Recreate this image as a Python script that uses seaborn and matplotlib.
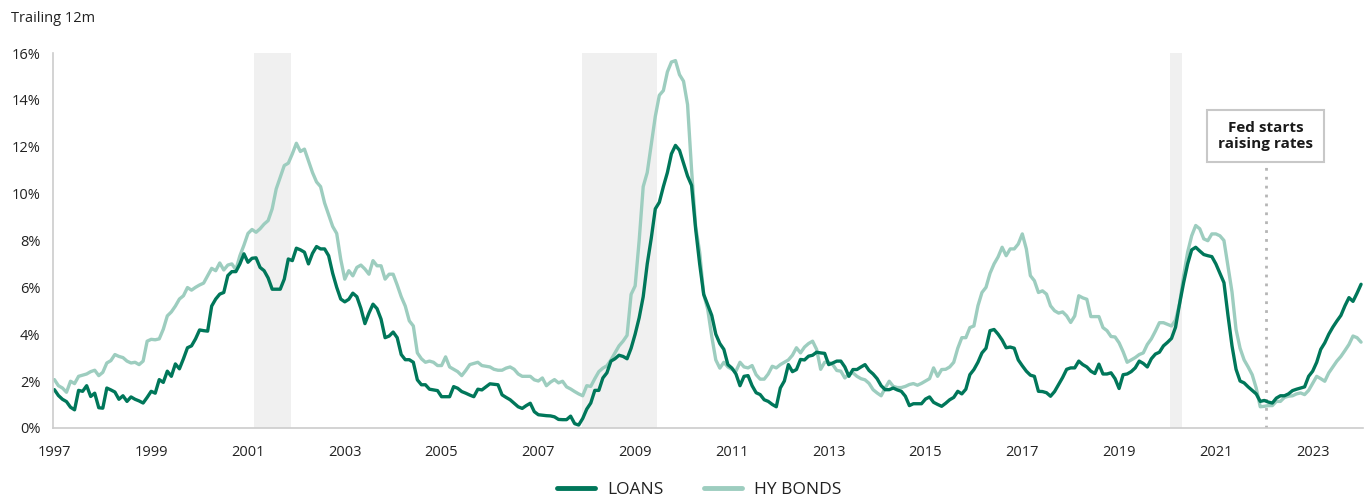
import numpy as np
import pandas as pd
import matplotlib.pyplot as plt
import seaborn as sns

# monthly trailing 12m default rates (%), Jan 1997 .. Jan 2024
loans = [
    1.63, 1.38, 1.22, 1.12, 0.88, 0.77, 1.6, 1.56, 1.8, 1.34, 1.48, 0.86,      # 1997
    0.84, 1.7, 1.62, 1.53, 1.22, 1.37, 1.13, 1.32, 1.22, 1.15, 1.06, 1.3,      # 1998
    1.56, 1.48, 2.06, 1.94, 2.42, 2.2, 2.73, 2.52, 2.95, 3.42, 3.5, 3.8,       # 1999
    4.18, 4.15, 4.13, 5.2, 5.5, 5.71, 5.78, 6.5, 6.67, 6.67, 7.0, 7.43,        # 2000
    7.07, 7.24, 7.26, 6.85, 6.71, 6.4, 5.92, 5.92, 5.92, 6.35, 7.21, 7.14,     # 2001
    7.67, 7.6, 7.5, 7.0, 7.45, 7.74, 7.64, 7.64, 7.35, 6.6, 6.0, 5.5,          # 2002
    5.38, 5.49, 5.75, 5.6, 5.1, 4.45, 4.9, 5.28, 5.09, 4.64, 3.85, 3.92,       # 2003
    4.09, 3.85, 3.13, 2.91, 2.91, 2.8, 2.05, 1.84, 1.84, 1.65, 1.62, 1.59,     # 2004
    1.33, 1.33, 1.33, 1.76, 1.69, 1.55, 1.48, 1.4, 1.33, 1.65, 1.62, 1.75,     # 2005
    1.88, 1.86, 1.84, 1.41, 1.3, 1.2, 1.05, 0.9, 0.83, 0.95, 1.05, 0.69,       # 2006
    0.56, 0.54, 0.52, 0.51, 0.47, 0.36, 0.35, 0.35, 0.5, 0.18, 0.12, 0.4,      # 2007
    0.8, 1.06, 1.6, 1.6, 2.13, 2.35, 2.85, 2.95, 3.1, 3.05, 2.95, 3.4,         # 2008
    4.0, 4.7, 5.6, 7.0, 8.1, 9.35, 9.63, 10.3, 10.9, 11.7, 12.06, 11.85,       # 2009
    11.3, 10.75, 10.35, 8.5, 7.0, 5.7, 5.25, 4.8, 4.0, 3.6, 3.35, 2.7,         # 2010
    2.55, 2.3, 1.8, 2.2, 2.23, 1.8, 1.5, 1.42, 1.2, 1.13, 1.0, 0.9,            # 2011
    1.7, 2.0, 2.7, 2.4, 2.49, 2.92, 2.9, 3.06, 3.1, 3.23, 3.2, 3.18,           # 2012
    2.7, 2.77, 2.85, 2.85, 2.6, 2.2, 2.49, 2.49, 2.6, 2.7, 2.45, 2.3,          # 2013
    2.1, 1.8, 1.63, 1.63, 1.7, 1.62, 1.56, 1.35, 0.95, 1.03, 1.03, 1.03,       # 2014
    1.23, 1.32, 1.09, 1.0, 0.92, 1.05, 1.2, 1.3, 1.56, 1.45, 1.65, 2.27,       # 2015
    2.49, 2.8, 3.2, 3.4, 4.15, 4.2, 4.0, 3.75, 3.42, 3.45, 3.4, 2.9,           # 2016
    2.65, 2.42, 2.25, 2.2, 1.56, 1.55, 1.5, 1.35, 1.55, 1.85, 2.15, 2.5,       # 2017
    2.56, 2.56, 2.85, 2.7, 2.6, 2.42, 2.32, 2.72, 2.3, 2.3, 2.35, 2.1,         # 2018
    1.68, 2.27, 2.3, 2.4, 2.56, 2.85, 2.75, 2.6, 2.95, 3.15, 3.23, 3.5,        # 2019
    3.65, 3.82, 4.3, 5.3, 6.2, 7.0, 7.6, 7.71, 7.55, 7.4, 7.35, 7.31,          # 2020
    7.0, 6.6, 6.2, 4.8, 3.5, 2.5, 2.0, 1.92, 1.75, 1.6, 1.45, 1.13,            # 2021
    1.17, 1.1, 1.06, 1.27, 1.37, 1.37, 1.45, 1.59, 1.65, 1.7, 1.75, 2.2,       # 2022
    2.42, 2.8, 3.35, 3.63, 4.0, 4.3, 4.56, 4.8, 5.21, 5.56, 5.4, 5.75,         # 2023
    6.13,                                                                      # 2024
]

hy_bonds = [
    2.06, 1.8, 1.7, 1.52, 1.99, 1.89, 2.2, 2.25, 2.3, 2.4, 2.46, 2.23,         # 1997
    2.37, 2.77, 2.87, 3.13, 3.05, 3.0, 2.85, 2.77, 2.8, 2.7, 2.85, 3.7,        # 1998
    3.78, 3.76, 3.8, 4.21, 4.78, 4.95, 5.2, 5.5, 5.64, 5.99, 5.88, 6.0,        # 1999
    6.1, 6.18, 6.5, 6.81, 6.71, 7.04, 6.74, 6.95, 7.0, 6.75, 7.35, 7.8,        # 2000
    8.3, 8.47, 8.35, 8.5, 8.7, 8.85, 9.35, 10.2, 10.7, 11.2, 11.3, 11.7,       # 2001
    12.15, 11.8, 11.9, 11.4, 10.9, 10.5, 10.3, 9.6, 9.1, 8.6, 8.3, 7.2,        # 2002
    6.35, 6.71, 6.49, 6.85, 6.95, 6.78, 6.56, 7.14, 6.92, 6.92, 6.35, 6.56,    # 2003
    6.56, 6.1, 5.6, 5.2, 4.57, 4.35, 3.2, 2.95, 2.8, 2.85, 2.8, 2.66,          # 2004
    2.66, 3.03, 2.6, 2.5, 2.4, 2.23, 2.45, 2.7, 2.75, 2.8, 2.66, 2.63,         # 2005
    2.6, 2.5, 2.46, 2.46, 2.55, 2.6, 2.5, 2.3, 2.2, 2.2, 2.2, 2.05,            # 2006
    2.0, 2.13, 1.8, 1.95, 2.06, 1.92, 1.99, 1.75, 1.66, 1.55, 1.45, 1.37,      # 2007
    1.8, 1.77, 2.1, 2.4, 2.55, 2.65, 2.9, 3.2, 3.5, 3.7, 3.95, 5.7,            # 2008
    6.06, 8.0, 10.3, 10.9, 12.1, 13.3, 14.2, 14.4, 15.2, 15.62, 15.68, 15.08,  # 2009
    14.8, 13.8, 11.0, 8.6, 7.5, 5.7, 5.06, 3.9, 2.9, 2.55, 2.8, 2.6,           # 2010
    2.5, 2.42, 2.8, 2.6, 2.56, 2.66, 2.27, 2.08, 2.08, 2.3, 2.63, 2.56,        # 2011
    2.7, 2.8, 2.9, 3.1, 3.42, 3.2, 3.45, 3.6, 3.7, 3.35, 2.5, 2.8,             # 2012
    2.8, 2.7, 2.45, 2.42, 2.13, 2.3, 2.35, 2.2, 2.1, 2.05, 1.9, 1.63,          # 2013
    1.49, 1.37, 1.7, 1.99, 1.77, 1.72, 1.72, 1.77, 1.85, 1.89, 1.82, 1.9,      # 2014
    2.0, 2.1, 2.56, 2.2, 2.49, 2.5, 2.6, 2.8, 3.4, 3.85, 3.85, 4.28,           # 2015
    4.35, 5.21, 5.78, 6.0, 6.6, 7.0, 7.3, 7.71, 7.35, 7.64, 7.64, 7.85,        # 2016
    8.28, 7.64, 6.5, 6.28, 5.78, 5.85, 5.71, 5.21, 5.0, 4.9, 4.95, 4.78,       # 2017
    4.5, 4.78, 5.64, 5.55, 5.49, 4.75, 4.75, 4.75, 4.28, 4.15, 3.9, 3.88,      # 2018
    3.63, 3.25, 2.8, 2.9, 3.0, 3.13, 3.2, 3.56, 3.8, 4.13, 4.49, 4.49,         # 2019
    4.42, 4.35, 4.6, 5.3, 6.5, 7.5, 8.2, 8.64, 8.5, 8.07, 7.99, 8.28,          # 2020
    8.28, 8.2, 8.0, 6.9, 5.8, 4.2, 3.4, 2.9, 2.6, 2.27, 1.7, 0.9,              # 2021
    0.92, 0.95, 0.95, 1.13, 1.13, 1.3, 1.35, 1.37, 1.45, 1.49, 1.42, 1.6,      # 2022
    1.9, 2.2, 2.1, 1.99, 2.35, 2.6, 2.85, 3.05, 3.3, 3.56, 3.92, 3.85,         # 2023
    3.66,                                                                      # 2024
]

series_names = ["LOANS", "HY BONDS"]
start_year = 1997
# recession periods (decimal years) and the Fed hike marker
recessions = [(2001.13, 2001.88), (2007.9, 2009.45), (2020.06, 2020.3)]
fed_hike = 2022.03
fed_label = "Fed starts\nraising rates"
year_ticks = list(range(1997, 2024, 2))
pct_ticks = list(range(0, 17, 2))

dark = "#00775A"
light = "#9DCDBF"

n = len(loans)
years = start_year + np.arange(n) / 12
df = pd.DataFrame({"Year": np.concatenate([years, years]),
                   "Rate": loans + hy_bonds,
                   "Series": [series_names[0]] * n + [series_names[1]] * n})

sns.set_style("white")
plt.rcParams['font.family'] = ['Open Sans', 'DejaVu Sans']

fig = plt.figure(figsize=(13.68, 5.01), dpi=100)
ax = fig.add_axes([0.0387, 0.146, 0.958, 0.748])

for a, b in recessions:
    ax.axvspan(a, b, color="#F0F0F0", lw=0, zorder=0)

sns.lineplot(data=df, x="Year", y="Rate", hue="Series",
             palette={series_names[0]: dark, series_names[1]: light},
             hue_order=[series_names[1], series_names[0]],
             linewidth=2.4, ax=ax, legend=False)

ax.vlines(fed_hike, 0, 11.3, colors="#B5B5B5", linestyles=(0, (1, 2.2)), lw=2, zorder=1)
ax.text(fed_hike, 12.45, fed_label, ha="center", va="center", fontsize=11,
        fontweight="bold", color="#1a1a1a", linespacing=1.2,
        bbox=dict(boxstyle="square,pad=0.72", fc="white", ec="#C8C8C8", lw=1.5))

ax.set_xlim(start_year - 0.03, 2024.05)
ax.set_ylim(0, 16)
ax.set_xticks(year_ticks)
ax.set_xticklabels([str(y) for y in year_ticks])
ax.set_yticks(pct_ticks)
ax.set_yticklabels([f"{p}%" for p in pct_ticks])
ax.tick_params(axis="both", length=0, labelsize=10.5, colors="#222222")
ax.tick_params(axis="x", pad=12)
ax.tick_params(axis="y", pad=9)
ax.set_xlabel("")
ax.set_ylabel("")
for side in ["top", "right"]:
    ax.spines[side].set_visible(False)
for side in ["left", "bottom"]:
    ax.spines[side].set_color("#CCCCCC")
    ax.spines[side].set_linewidth(1.2)

fig.text(0.008, 0.963, "Trailing 12m", fontsize=10.5, color="#222222", va="center")

handles = [plt.Line2D([], [], color=dark, lw=3.5, solid_capstyle="round"),
           plt.Line2D([], [], color=light, lw=3.5, solid_capstyle="round")]
fig.legend(handles, series_names, loc="center", bbox_to_anchor=(0.511, 0.022),
           ncol=2, frameon=False, fontsize=12.5, handlelength=2.2,
           handletextpad=0.7, columnspacing=2.3, labelcolor="#222222")

fig.savefig("out.png", dpi=100)
